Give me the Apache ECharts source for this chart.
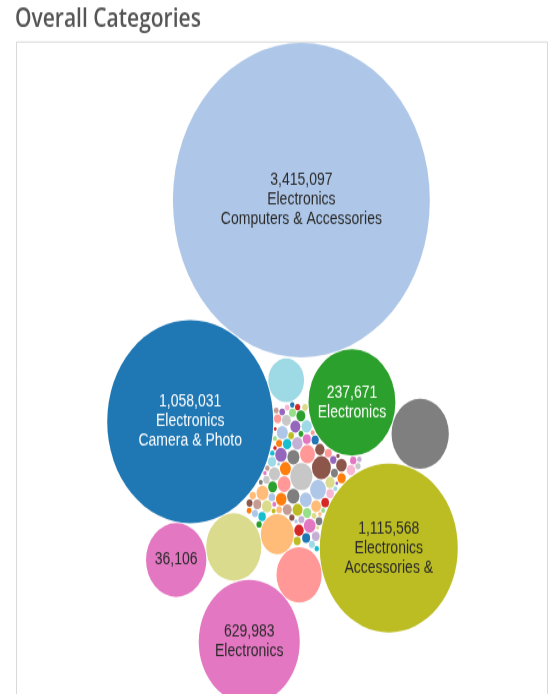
<!DOCTYPE html>
<html><head><meta charset="utf-8">
<script src="https://cdn.jsdelivr.net/npm/echarts/dist/echarts.min.js"></script>
<style>
html,body{margin:0;padding:0;background:#fff;overflow:hidden;}
#wrap{width:553px;height:694px;overflow:hidden;position:relative;background:#fff;}
#chart{width:553px;height:567px;transform:scaleY(1.224);transform-origin:0 0;}
</style></head>
<body><div id="wrap"><div id="chart"></div></div>
<script>
// ---------------- DATA ----------------
// size measure of the small bubbles in the central cluster (row order)
const clusterSize = [121, 90, 64, 56, 36, 30, 42, 38, 35, 33, 30, 28, 27, 25, 24, 22, 21, 20, 20, 18, 17, 16, 16, 15, 14, 13, 12, 12, 11, 10, 10, 9, 9, 8, 8, 7, 6, 6, 5, 5, 4, 4, 4, 3];
// main sub-category bubbles (row order)
const mainSize     = [1890, 4760, 6890, 270, 510, 760, 16500, 2550, 820, 910];
const mainValue    = [237671, 1115568, 1058031, null, null, null, 3415097, 629983, null, 36106];
const mainCategory = ['Electronics', 'Electronics', 'Electronics', null, null, null, 'Electronics', 'Electronics', null, null];
const mainSubCat   = [null, 'Accessories &', 'Camera & Photo', null, null, null, 'Computers & Accessories', null, null, null];
// remaining small bubbles (row order), last one is the light-cyan bubble
const edgeSize = [36, 34, 30, 28, 26, 25, 24, 22, 20, 20, 18, 17, 16, 16, 15, 14, 13, 12, 12, 11, 10, 10, 9, 9, 9, 8, 8, 7, 7, 7, 6, 6, 6, 5, 5, 5, 4, 4, 4, 4, 3, 3, 3, 3, 2, 2, 2, 2, 320];
const titleText = 'Overall Categories';

// ---------------- STYLE ----------------
const palette = ['#1f77b4','#aec7e8','#ff7f0e','#ffbb78','#2ca02c','#98df8a','#d62728','#ff9896','#9467bd','#c5b0d5','#8c564b','#c49c94','#e377c2','#f7b6d2','#7f7f7f','#c7c7c7','#bcbd22','#dbdb8d','#17becf','#9edae5'];
const clusterColorSlot = [15, 10, 1, 7, 14, 2];
const mainColorSlot = [4, 16, 0, 3, 7, 17, 1, 12, 14, 12];
const edgeColorSlot = {48: 19};
const STRETCH = 1.224;
const FRAME = {left: 17, right: 548, top: 42 / STRETCH};
const PAD = 0.8;

// ---------------- ROWS ----------------
const rows = [];
clusterSize.forEach((s, i) => rows.push({size: s, color: palette[i < clusterColorSlot.length ? clusterColorSlot[i] : (i * 7 + 5) % 20]}));
mainSize.forEach((s, i) => rows.push({size: s, color: palette[mainColorSlot[i]], value: mainValue[i], cat: mainCategory[i], sub: mainSubCat[i]}));
edgeSize.forEach((s, i) => rows.push({size: s, color: palette[edgeColorSlot[i] != null ? edgeColorSlot[i] : (i * 9 + 3) % 20]}));

// ---------------- PACKING (greedy, closest to cluster centre) ----------------
function packBubbles(radii) {
  const placed = [];
  const ok = (x, y, r) => {
    for (const q of placed) {
      const dx = x - q.x, dy = y - q.y, m = q.r + r + PAD - 1e-6;
      if (dx * dx + dy * dy < m * m) return false;
    }
    return true;
  };
  radii.forEach((r, k) => {
    if (k === 0) { placed.push({x: 0, y: 0, r}); return; }
    const cands = [];
    for (let i = 0; i < placed.length; i++) {
      const a = placed[i], ra = a.r + r + PAD;
      const da = Math.hypot(a.x, a.y);
      const ux = da > 1e-9 ? -a.x / da : 0, uy = da > 1e-9 ? -a.y / da : -1;
      cands.push([a.x + ra * ux, a.y + ra * uy]);
      for (let j = i + 1; j < placed.length; j++) {
        const b = placed[j], rb = b.r + r + PAD;
        const dx = b.x - a.x, dy = b.y - a.y, d = Math.hypot(dx, dy);
        if (d === 0 || d > ra + rb || d < Math.abs(ra - rb)) continue;
        const t = (ra * ra - rb * rb + d * d) / (2 * d);
        const h = Math.sqrt(Math.max(0, ra * ra - t * t));
        const mx = a.x + t * dx / d, my = a.y + t * dy / d;
        cands.push([mx - h * dy / d, my + h * dx / d], [mx + h * dy / d, my - h * dx / d]);
      }
    }
    cands.sort((p, q) => (p[0] * p[0] + p[1] * p[1]) - (q[0] * q[0] + q[1] * q[1]));
    for (const c of cands) if (ok(c[0], c[1], r)) { placed.push({x: c[0], y: c[1], r}); return; }
  });
  return placed;
}

const radii = rows.map(r => Math.sqrt(r.size));
const P = packBubbles(radii);

// orient: largest bubble on top, second largest on its left
const order = rows.map((r, i) => i).sort((a, b) => rows[b].size - rows[a].size);
const iBig = order[0], i2 = order[1];
const rot = -Math.PI / 2 - Math.atan2(P[iBig].y, P[iBig].x);
const cr = Math.cos(rot), sr = Math.sin(rot);
P.forEach(p => { const x = p.x * cr - p.y * sr, y = p.x * sr + p.y * cr; p.x = x; p.y = y; });
if (P[i2].x > P[iBig].x) P.forEach(p => { p.x = -p.x; });

// fit: top of pack on frame top, centred horizontally in frame
let minX = Infinity, maxX = -Infinity, minY = Infinity;
P.forEach(p => { minX = Math.min(minX, p.x - p.r); maxX = Math.max(maxX, p.x + p.r); minY = Math.min(minY, p.y - p.r); });
const offX = (FRAME.left + FRAME.right) / 2 - (minX + maxX) / 2;
const offY = FRAME.top + 0.8 - minY;

// ---------------- CHART ----------------
const W = 553, H = 567;
const chart = echarts.init(document.getElementById('chart'), null, {renderer: 'canvas'});
const pxPerUnit = W / W; // grid width / axis span
function lum(hex) {
  const n = parseInt(hex.slice(1), 16);
  return (0.299 * (n >> 16) + 0.587 * ((n >> 8) & 255) + 0.114 * (n & 255)) / 255;
}
const items = rows.map((row, i) => {
  const lines = [];
  if (row.value != null) lines.push(row.value.toLocaleString('en-US'));
  if (row.cat) lines.push(row.cat);
  if (row.sub) lines.push(row.sub);
  return {
    value: [P[i].x + offX, P[i].y + offY],
    symbolSize: 2 * P[i].r * pxPerUnit,
    itemStyle: {color: row.color, opacity: 1},
    label: lines.length ? {
      show: true, position: 'inside', formatter: lines.join('\n'),
      color: lum(row.color) < 0.5 ? '#ffffff' : '#2a2a2a',
      fontSize: 14, lineHeight: 16, fontFamily: 'Liberation Sans, Arial, sans-serif'
    } : {show: false}
  };
});

chart.setOption({
  animation: false,
  backgroundColor: '#ffffff',
  grid: {left: 0, top: 0, width: W, height: H, containLabel: false},
  xAxis: {type: 'value', min: 0, max: W, show: false},
  yAxis: {type: 'value', min: 0, max: H, inverse: true, show: false},
  graphic: [
    {type: 'rect', z: 0, shape: {x: FRAME.left - 0.5, y: FRAME.top, width: FRAME.right - FRAME.left, height: 700},
     style: {fill: '#ffffff', stroke: '#d9d9d9', lineWidth: 1}},
    {type: 'text', z: 1, x: 15, y: 16,
     style: {text: titleText, fontSize: 21, fontWeight: 600, fontFamily: 'Open Sans', fill: '#555555', verticalAlign: 'middle'}}
  ],
  series: [{
    type: 'scatter', symbol: 'circle', z: 5, silent: true,
    emphasis: {disabled: true},
    data: items
  }]
});
</script>
</body></html>
